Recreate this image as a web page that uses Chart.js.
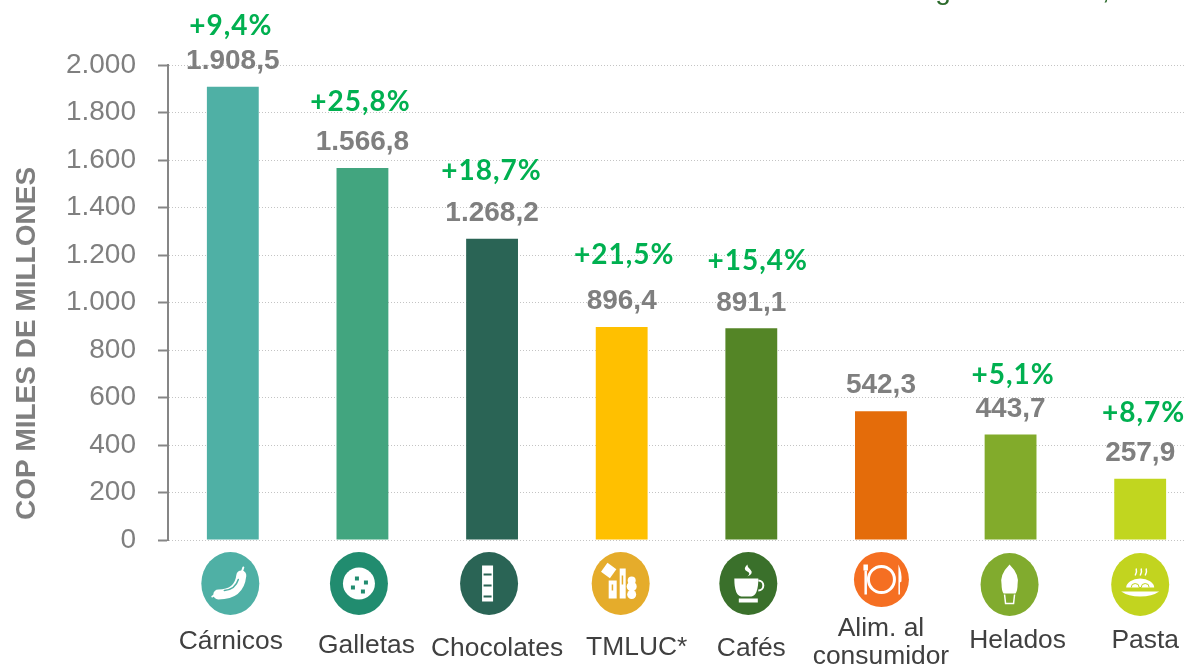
<!DOCTYPE html>
<html>
<head>
<meta charset="utf-8">
<style>
  html, body { margin: 0; padding: 0; background: #fff; overflow: hidden; }
  #wrap { width: 1186px; height: 665px; overflow: hidden; }
</style>
<script src="https://cdn.jsdelivr.net/npm/chart.js@4"></script>
</head>
<body>
<div id="wrap"><canvas id="chart" width="1205" height="665"></canvas></div>
<script>
const categories = ['Cárnicos', 'Galletas', 'Chocolates', 'TMLUC*', 'Cafés', 'Alim. al|consumidor', 'Helados', 'Pasta'];
const sales = [1908.5, 1566.8, 1268.2, 896.4, 891.1, 542.3, 443.7, 257.9];
const growth = [9.4, 25.8, 18.7, 21.5, 15.4, null, 5.1, 8.7];
const barColors = ['#4fb0a5', '#42a57f', '#2a6455', '#ffc000', '#548526', '#e46c0a', '#82ab2b', '#c1d61f'];
const iconColors = ['#4fb0a5', '#218c6f', '#2a6455', '#e5ac2b', '#3a702b', '#f56f22', '#81ab2e', '#c2d41f'];

// Hand placement of the annotations, the source slide nudged each one
const growthGap = [35, 40, 42, 46, 41, 0, 34, 40];
const growthDx = [-2, -2, -0.5, 2.5, 6.5, 0, 2.5, 3.5];
const labelDx = [-2, 4, 5, 15, 0, 0, 7, 5];
const labelY = [642, 645.5, 649, 648, 649, 629, 641, 641];
const iconDx = [-2.5, -3.5, -3, -1, -3, 0.5, -1, 0];

const GRAY = '#7f7f7f';
const SANS = '"Liberation Sans", Arial, sans-serif';

function formatNumber(v, decimals) {
  let parts = v.toFixed(decimals).split('.');
  let whole = parts[0].replace(/\B(?=(\d{3})+$)/g, '.');
  return parts[1] ? whole + ',' + parts[1] : whole;
}

function bar(ctx, x, y, w, h) { ctx.fillRect(x, y, w, h); }

function disc(ctx, x, y, r) {
  ctx.beginPath();
  ctx.arc(x, y, r, 0, Math.PI * 2);
  ctx.fill();
}

// Icon glyphs, drawn around the centre of each circle
const glyphs = [
  function(ctx, bg) { // sausage
    ctx.lineCap = 'round';
    ctx.lineWidth = 10;
    ctx.beginPath();
    ctx.moveTo(-12, 11);
    ctx.quadraticCurveTo(9, 11, 11, -8);
    ctx.stroke();
    ctx.lineWidth = 2;
    ctx.beginPath();
    ctx.moveTo(-18, 13);
    ctx.lineTo(-13, 10);
    ctx.moveTo(11, -10);
    ctx.lineTo(13, -16);
    ctx.stroke();
    ctx.strokeStyle = bg;
    ctx.lineWidth = 1.5;
    ctx.beginPath();
    ctx.moveTo(-6, 7);
    ctx.quadraticCurveTo(5, 6, 8, -4);
    ctx.stroke();
  },
  function(ctx, bg) { // cookie
    disc(ctx, 0, 0, 16);
    ctx.fillStyle = bg;
    bar(ctx, -4, -7, 4, 4);
    bar(ctx, 5, -3, 4, 4);
    bar(ctx, -8, 2, 4, 4);
    bar(ctx, 2, 6, 4, 4);
  },
  function(ctx, bg) { // chocolate bar
    bar(ctx, -7, -18, 11, 36);
    ctx.fillStyle = bg;
    bar(ctx, -5.5, -10, 8, 2);
    bar(ctx, -5.5, 1, 8, 2);
    bar(ctx, -5.5, 12, 8, 2);
  },
  function(ctx, bg) { // tea, modifiers, snacks
    ctx.save();
    ctx.translate(-12, -13);
    ctx.rotate(Math.PI / 5);
    bar(ctx, -5.5, -5.5, 11, 11);
    ctx.restore();
    bar(ctx, -12, -3, 8, 18);
    bar(ctx, -1, -15, 6, 30);
    disc(ctx, 11, -3, 4);
    disc(ctx, 11, 3, 5);
    disc(ctx, 11, 11, 4.5);
    ctx.fillStyle = bg;
    bar(ctx, -9, 1, 1.5, 6);
    bar(ctx, 1, -8, 1.5, 9);
  },
  function(ctx, bg) { // coffee cup
    ctx.beginPath();
    ctx.moveTo(-14, -5);
    ctx.lineTo(10, -5);
    ctx.quadraticCurveTo(10, 12, 3, 13);
    ctx.lineTo(-7, 13);
    ctx.quadraticCurveTo(-14, 12, -14, -5);
    ctx.fill();
    ctx.lineWidth = 2;
    ctx.beginPath();
    ctx.arc(10, 2, 5, -Math.PI / 2, Math.PI / 2);
    ctx.stroke();
    bar(ctx, -9.5, 15, 19, 4);
    ctx.beginPath();
    ctx.moveTo(-1, -19);
    ctx.quadraticCurveTo(-6, -14, -1, -12);
    ctx.quadraticCurveTo(3, -10, -1, -7);
    ctx.quadraticCurveTo(6, -10, 2, -14);
    ctx.quadraticCurveTo(-1, -16, -1, -19);
    ctx.fill();
  },
  function(ctx) { // plate, fork and knife
    ctx.lineWidth = 3;
    ctx.beginPath();
    ctx.arc(0, 0, 13, 0, Math.PI * 2);
    ctx.stroke();
    bar(ctx, -18, -15, 4.5, 6);
    bar(ctx, -17, -9, 2.5, 24);
    ctx.beginPath();
    ctx.moveTo(17, 15);
    ctx.lineTo(17, -15);
    ctx.quadraticCurveTo(21, -6, 20, 2);
    ctx.lineTo(18.5, 3);
    ctx.lineTo(18.5, 15);
    ctx.fill();
  },
  function(ctx) { // ice cream
    ctx.beginPath();
    ctx.moveTo(0, -20);
    ctx.quadraticCurveTo(10, -10, 8, 0);
    ctx.quadraticCurveTo(8, 6, 6, 9);
    ctx.lineTo(-6, 9);
    ctx.quadraticCurveTo(-8, 6, -8, 0);
    ctx.quadraticCurveTo(-10, -10, 0, -20);
    ctx.fill();
    ctx.lineWidth = 1.5;
    ctx.beginPath();
    ctx.moveTo(-5, 10);
    ctx.lineTo(-4, 19);
    ctx.lineTo(4, 19);
    ctx.lineTo(5, 10);
    ctx.stroke();
  },
  function(ctx, bg) { // pasta
    ctx.beginPath();
    ctx.ellipse(0, 3, 14, 9, 0, Math.PI, 0);
    ctx.fill();
    ctx.beginPath();
    ctx.moveTo(-19, 7);
    ctx.lineTo(19, 7);
    ctx.quadraticCurveTo(12, 12, 0, 12);
    ctx.quadraticCurveTo(-12, 12, -19, 7);
    ctx.fill();
    ctx.lineWidth = 1.5;
    for (let dx of [-5, 0, 5]) {
      ctx.beginPath();
      ctx.moveTo(dx, -9);
      ctx.quadraticCurveTo(dx + 2, -13, dx + 1, -16);
      ctx.stroke();
    }
    ctx.strokeStyle = bg;
    ctx.lineWidth = 1;
    ctx.beginPath();
    ctx.arc(-5, 3, 4, Math.PI, 0);
    ctx.arc(5, 3, 4, Math.PI, 0);
    ctx.stroke();
  }
];

const iconSize = [[29, 31.5, 583.5], [29, 31.5, 583.5], [29, 31.5, 583.5], [29, 31.5, 583.5],
  [29, 31.5, 583.5], [27.5, 27.5, 579.5], [29, 31.5, 584.5], [29, 31.5, 584.5]];

const annotations = {
  id: 'annotations',
  afterDraw(chart) {
    const ctx = chart.ctx;
    const xs = chart.scales.x;
    const ys = chart.scales.y;
    ctx.save();
    ctx.textAlign = 'center';
    ctx.textBaseline = 'middle';

    categories.forEach((name, i) => {
      const cx = xs.getPixelForValue(i);
      const top = ys.getPixelForValue(sales[i]);

      ctx.fillStyle = GRAY;
      ctx.font = 'bold 28px ' + SANS;
      ctx.fillText(formatNumber(sales[i], 1), cx, top - 25.5);

      if (growth[i] !== null) {
        ctx.fillStyle = '#00b050';
        ctx.font = 'bold 28px Lato, sans-serif';
        ctx.letterSpacing = '1px';
        ctx.fillText('+' + formatNumber(growth[i], 1) + '%', cx + growthDx[i], top - 26 - growthGap[i]);
        ctx.letterSpacing = '0px';
      }

      // icon under the axis
      const size = iconSize[i];
      ctx.save();
      ctx.translate(cx + iconDx[i], size[2]);
      ctx.fillStyle = iconColors[i];
      ctx.beginPath();
      ctx.ellipse(0, 0, size[0], size[1], 0, 0, Math.PI * 2);
      ctx.fill();
      ctx.fillStyle = '#fff';
      ctx.strokeStyle = '#fff';
      glyphs[i](ctx, iconColors[i]);
      ctx.restore();

      // category name, the long one takes two lines
      ctx.fillStyle = '#404040';
      ctx.font = '26.4px ' + SANS;
      name.split('|').forEach((line, n) => {
        ctx.fillText(line, cx + labelDx[i], labelY[i] + n * 28);
      });
    });

    // axis title
    ctx.save();
    ctx.translate(27, 343.5);
    ctx.rotate(-Math.PI / 2);
    ctx.fillStyle = GRAY;
    ctx.font = 'bold 28px ' + SANS;
    ctx.fillText('COP MILES DE MILLONES', 0, 0);
    ctx.restore();

    // what is left of the title, the reference is cropped through it
    ctx.fillStyle = '#2c6b2c';
    ctx.font = '28px ' + SANS;
    ctx.textBaseline = 'alphabetic';
    ctx.fillText('g', 943, -1);
    ctx.fillText(',', 1106, -1);
    ctx.restore();
  }
};

new Chart(document.getElementById('chart').getContext('2d'), {
  type: 'bar',
  data: {
    labels: categories,
    datasets: [{
      data: sales,
      backgroundColor: barColors,
      barPercentage: 0.4,
      categoryPercentage: 1
    }]
  },
  options: {
    responsive: false,
    animation: false,
    layout: { padding: { top: 65, bottom: 125, left: 0, right: 0 } },
    plugins: { legend: { display: false }, tooltip: { enabled: false } },
    scales: {
      x: { display: false },
      y: {
        min: 0,
        max: 2000,
        ticks: {
          stepSize: 200,
          padding: 22,
          color: GRAY,
          font: { family: SANS, size: 28 },
          callback: v => formatNumber(v, 0)
        },
        grid: {
          color: '#c4c4c4',
          tickColor: '#868686',
          tickBorderDash: [],
          tickLength: 10,
          tickWidth: 2
        },
        border: { color: '#868686', width: 2, dash: [1, 2] },
        afterFit: scale => { scale.width = 168; }
      }
    }
  },
  plugins: [annotations]
});
</script>
</body>
</html>
